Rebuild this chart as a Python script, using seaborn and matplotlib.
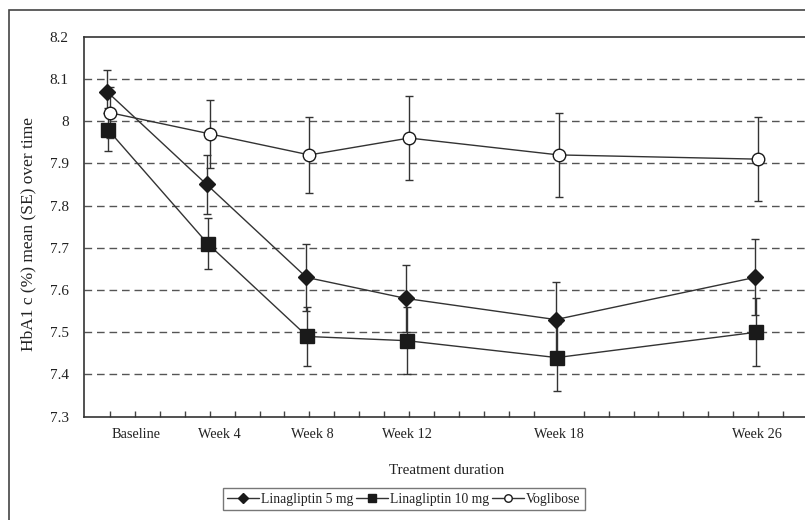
import matplotlib
matplotlib.use("Agg")
import matplotlib.pyplot as plt
import seaborn as sns
import pandas as pd
import numpy as np
from matplotlib.patches import Rectangle
from matplotlib.lines import Line2D

# ---- data ----
weeks = [0, 4, 8, 12, 18, 26]
tick_labels = ["Baseline", "Week 4", "Week 8", "Week 12", "Week 18", "Week 26"]
series_names = ["Linagliptin 5 mg", "Linagliptin 10 mg", "Voglibose"]
lina5_mean = [8.07, 7.85, 7.63, 7.58, 7.53, 7.63]
lina5_se = [0.05, 0.07, 0.08, 0.08, 0.09, 0.09]
lina10_mean = [7.98, 7.71, 7.49, 7.48, 7.44, 7.50]
lina10_se = [0.05, 0.06, 0.07, 0.08, 0.08, 0.08]
vogli_mean = [8.02, 7.97, 7.92, 7.96, 7.92, 7.91]
vogli_se = [0.06, 0.08, 0.09, 0.10, 0.10, 0.10]

# ---- style ----
dodge = {"Linagliptin 5 mg": -0.12, "Linagliptin 10 mg": -0.08, "Voglibose": 0.0}
markers = {"Linagliptin 5 mg": "D", "Linagliptin 10 mg": "s", "Voglibose": "o"}
msizes = {"Linagliptin 5 mg": 8.5, "Linagliptin 10 mg": 10, "Voglibose": 9}
faces = {"Linagliptin 5 mg": "#1a1a1a", "Linagliptin 10 mg": "#1a1a1a", "Voglibose": "white"}
line_c = "#333333"
text_c = "#222222"

sns.set_theme(style="white")
plt.rcParams["font.family"] = ["Liberation Serif", "DejaVu Serif"]

rows = []
for name, m, s in zip(series_names, [lina5_mean, lina10_mean, vogli_mean],
                      [lina5_se, lina10_se, vogli_se]):
    for w, mv, sv in zip(weeks, m, s):
        rows.append({"series": name, "week": w, "x": w + dodge[name], "mean": mv, "se": sv})
df = pd.DataFrame(rows)

fig = plt.figure(figsize=(8.05, 5.2), dpi=100)
ax = fig.add_axes([84 / 805, 103.3 / 520, (805 - 84) / 805 + 0.01, 380 / 520])

# gridlines
for yv in np.arange(7.4, 8.15, 0.1):
    ax.axhline(yv, color="#555555", lw=1.0, dashes=(5.5, 3.5), zorder=0)

# error bars
for name in series_names:
    d = df[df.series == name]
    ax.errorbar(d["x"], d["mean"], yerr=d["se"], fmt="none", ecolor=line_c,
                elinewidth=1.0, capsize=3, capthick=1.0, zorder=2)

# lines + markers via seaborn
for name in series_names:
    d = df[df.series == name]
    sns.lineplot(data=d, x="x", y="mean", ax=ax, color=line_c, lw=1.0,
                 marker=markers[name], markersize=msizes[name],
                 markerfacecolor=faces[name], markeredgecolor="#1a1a1a",
                 markeredgewidth=1.0, legend=False, zorder=3,
                 estimator=None, sort=False)

ax.set_xlim((84 - 110) / 25, (805 - 110) / 25 + 0.4)
ax.set_ylim(7.3, 8.2)
ax.set_yticks(np.round(np.arange(7.3, 8.25, 0.1), 1))
ax.set_yticklabels(["7.3", "7.4", "7.5", "7.6", "7.7", "7.8", "7.9", "8", "8.1", "8.2"])
ax.tick_params(axis="y", length=0, pad=11, labelsize=11, colors=text_c)

# labelled positions (label centres) and minor ticks each week
label_pos = [w + off for w, off in zip(weeks, [1.05, 0.4, 0.1, -0.1, 0.0, -0.05])]
ax.set_xticks(label_pos)
ax.set_xticklabels(tick_labels)
ax.set_xticks(np.arange(0, 28, 1), minor=True)
ax.tick_params(axis="x", which="major", length=0, pad=8, labelsize=10.3, colors=text_c)
ax.tick_params(axis="x", which="minor", direction="in", length=4, width=1, color="#444444", bottom=True)

ax.set_xlabel("Treatment duration", fontsize=10.8, color=text_c)
ax.xaxis.set_label_coords((447 - 84) / (805 - 84 + 8), -0.125)
ax.set_ylabel("HbA1 c (%) mean (SE) over time", fontsize=12.5, color=text_c)
ax.yaxis.set_label_coords(-(84 - 36) / (805 - 84 + 8), 0.48)

for sp in ["left", "bottom", "top"]:
    ax.spines[sp].set_color("#333333")
    ax.spines[sp].set_linewidth(1.2)
ax.spines["right"].set_visible(False)

# legend
handles = [Line2D([0], [0], color=line_c, lw=1.0, marker=markers[n],
                  markersize=msizes[n] * 0.6, markerfacecolor=faces[n],
                  markeredgecolor="#1a1a1a") for n in series_names]
leg = fig.legend(handles, series_names, loc="center", ncol=3,
                 bbox_to_anchor=(404 / 805, 1 - 499 / 520), frameon=True,
                 fancybox=False, edgecolor="#555555", fontsize=9.8,
                 handlelength=2.3, handletextpad=0.2, columnspacing=0.2,
                 borderpad=0.3, labelcolor=text_c)
leg.get_frame().set_linewidth(1.0)

# outer border
fig.patches.append(Rectangle((9 / 805, -0.02), 1.0, 1 - 10 / 520 + 0.02,
                             transform=fig.transFigure, fill=False,
                             edgecolor="#444444", lw=1.2))

fig.savefig("out.png", dpi=100)
